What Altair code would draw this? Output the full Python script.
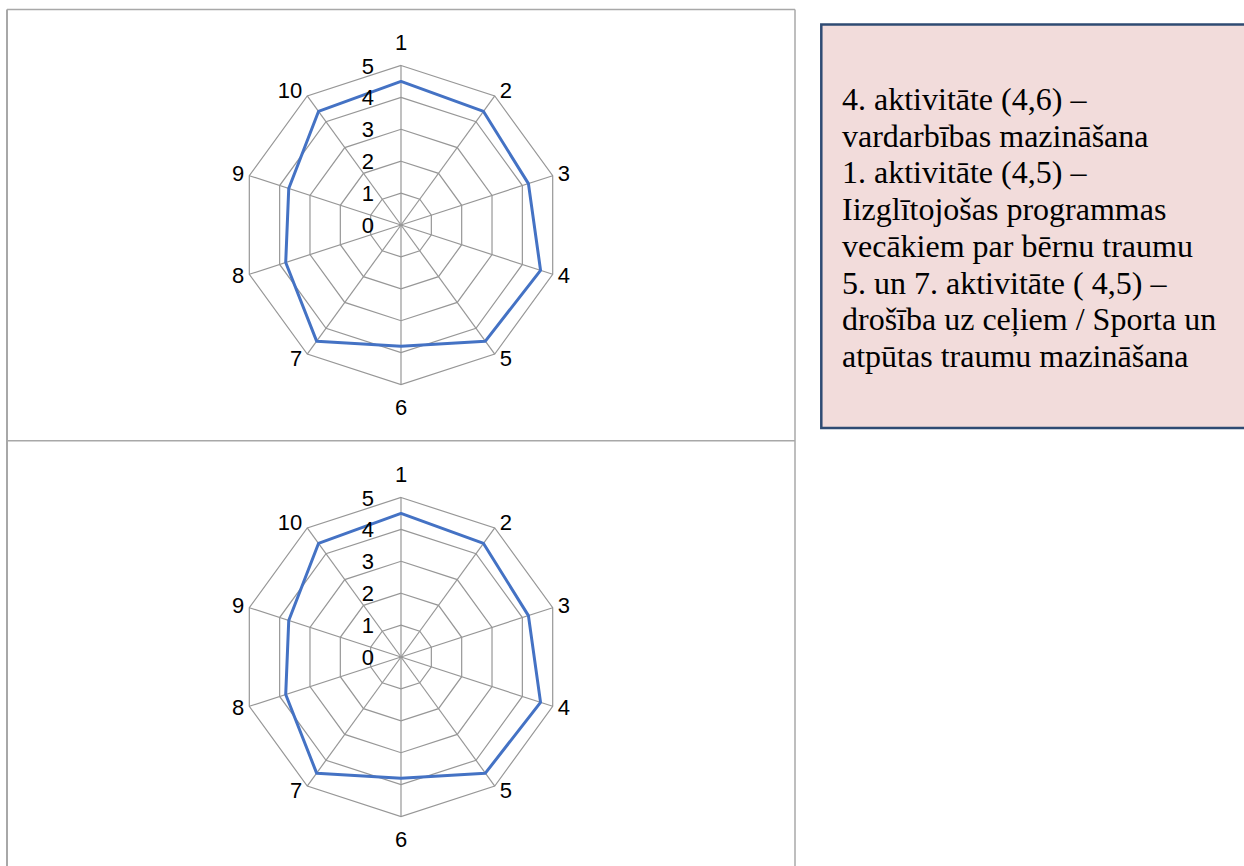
import altair as alt
import pandas as pd

# Radar axes (activities) and the scores shown on each panel
CATEGORIES = ["1", "2", "3", "4", "5", "6", "7", "8", "9", "10"]
TOP_SCORES = [4.5, 4.4, 4.2, 4.6, 4.5, 3.8, 4.5, 3.8, 3.7, 4.4]
BOTTOM_SCORES = [4.5, 4.4, 4.2, 4.6, 4.5, 3.8, 4.5, 3.8, 3.7, 4.4]
RING_TICKS = [0, 1, 2, 3, 4, 5]
INFO_LINES = [
    "4. aktivitāte (4,6) –",
    "vardarbības mazināšana",
    "1. aktivitāte (4,5) –",
    "Iizglītojošas programmas",
    "vecākiem par bērnu traumu",
    "5. un 7. aktivitāte ( 4,5) –",
    "drošība uz ceļiem / Sporta un",
    "atpūtas traumu mazināšana",
]

# Page geometry (pixels)
W, H = 1244, 866
UNIT = 31.9            # pixels per score point
N = len(CATEGORIES)
R_MAX = max(RING_TICKS)
TOP_CENTER = (401, 225)
BOTTOM_CENTER = (401, 657)

GRID = "#979797"
TABLE = "#a8a8a8"
SERIES = "#4472C4"
SANS = "Liberation Sans, Arial, sans-serif"
SERIF = "Liberation Serif, Times New Roman, serif"
LABEL_SIZE = 22

X = alt.X("px:Q", scale=alt.Scale(domain=[0, W], nice=False, zero=False), axis=None)
Y = alt.Y("py:Q", scale=alt.Scale(domain=[0, H], nice=False, zero=False, reverse=True), axis=None)


def place(chart, cx, cy, radius_expr):
    """Convert (idx, radius) rows to page coordinates around (cx, cy)."""
    return chart.transform_calculate(
        theta=f"datum.idx * 2 * PI / {N}"
    ).transform_calculate(
        px=f"{cx} + ({radius_expr}) * {UNIT} * sin(datum.theta)",
        py=f"{cy} - ({radius_expr}) * {UNIT} * cos(datum.theta)",
    )


def radar(scores, center):
    cx, cy = center
    idx = list(range(N))

    rings_df = pd.DataFrame(
        [{"level": lv, "idx": i} for lv in RING_TICKS if lv > 0 for i in idx]
    )
    rings = place(
        alt.Chart(rings_df).mark_line(
            color=GRID, strokeWidth=1.2, interpolate="linear-closed"
        ),
        cx, cy, "datum.level",
    ).encode(x=X, y=Y, detail="level:N", order="idx:Q")

    spokes_df = pd.DataFrame({"idx": idx, "cat": CATEGORIES})
    spokes = (
        alt.Chart(spokes_df)
        .mark_rule(color=GRID, strokeWidth=1.2)
        .transform_calculate(theta=f"datum.idx * 2 * PI / {N}")
        .transform_calculate(
            px=f"{cx}",
            py=f"{cy}",
            px2=f"{cx} + {R_MAX} * {UNIT} * sin(datum.theta)",
            py2=f"{cy} - {R_MAX} * {UNIT} * cos(datum.theta)",
        )
        .encode(x=X, y=Y, x2="px2:Q", y2="py2:Q")
    )

    series_df = pd.DataFrame({"idx": idx, "cat": CATEGORIES, "score": scores})
    series = place(
        alt.Chart(series_df).mark_line(
            color=SERIES, strokeWidth=3, interpolate="linear-closed",
            strokeJoin="round",
        ),
        cx, cy, "datum.score",
    ).encode(x=X, y=Y, order="idx:Q")

    # Category labels just outside the outer ring
    label_base = (
        alt.Chart(spokes_df)
        .transform_calculate(theta=f"datum.idx * 2 * PI / {N}")
        .transform_calculate(s="sin(datum.theta)", c="cos(datum.theta)")
        .transform_calculate(
            vx=f"{cx} + {R_MAX} * {UNIT} * datum.s",
            vy=f"{cy} - {R_MAX} * {UNIT} * datum.c",
        )
        .transform_calculate(
            px="abs(datum.s) < 0.01 ? datum.vx : datum.vx + (datum.s > 0 ? 5 : -5)",
            py="datum.vy - (abs(datum.s) < 0.01 ? 23 : 6) * datum.c",
        )
    )
    text_kw = dict(font=SANS, fontSize=LABEL_SIZE, color="#000000", baseline="middle")
    cat_right = label_base.transform_filter("datum.s > 0.01").mark_text(
        align="left", **text_kw
    ).encode(x=X, y=Y, text="cat:N")
    cat_left = label_base.transform_filter("datum.s < -0.01").mark_text(
        align="right", **text_kw
    ).encode(x=X, y=Y, text="cat:N")
    cat_mid = label_base.transform_filter("abs(datum.s) <= 0.01").mark_text(
        align="center", **text_kw
    ).encode(x=X, y=Y, text="cat:N")

    # Value-axis labels along the vertical spoke
    ticks_df = pd.DataFrame({"level": RING_TICKS, "label": [str(t) for t in RING_TICKS]})
    ticks = (
        alt.Chart(ticks_df)
        .transform_calculate(px=f"{cx - 27}", py=f"{cy} - datum.level * {UNIT} + 1")
        .mark_text(align="right", **text_kw)
        .encode(x=X, y=Y, text="label:N")
    )

    return [rings, spokes, series, cat_right, cat_left, cat_mid, ticks]


one_row = alt.Data(values=[{"k": 1}])


def rule(x, y, x2, y2, width):
    return alt.Chart(one_row).mark_rule(color=TABLE, strokeWidth=width).encode(
        x=alt.value(x), y=alt.value(y), x2=alt.value(x2), y2=alt.value(y2)
    )


# Table frame around the two chart cells
table = [
    rule(7, 9.5, 795, 9.5, 1.5),
    rule(7, 9.5, 7, H + 2, 2),
    rule(795, 9.5, 795, H + 2, 1.5),
    rule(7, 440.7, 795, 440.7, 1.5),
]

# Commentary box
box = alt.Chart(one_row).mark_rect(
    fill="#F2DCDB", stroke="#2F4B73", strokeWidth=2.5
).encode(
    x=alt.value(821.3), x2=alt.value(W + 20), y=alt.value(24.5), y2=alt.value(428)
)
box_text = alt.Chart(one_row).mark_text(
    align="left", baseline="alphabetic", font=SERIF, fontSize=32,
    lineHeight=36.7, color="#000000",
).encode(x=alt.value(842), y=alt.value(110), text=alt.value(INFO_LINES))

chart = alt.layer(
    *table,
    *radar(TOP_SCORES, TOP_CENTER),
    *radar(BOTTOM_SCORES, BOTTOM_CENTER),
    box,
    box_text,
).properties(
    width=W, height=H, padding=0, autosize=alt.AutoSizeParams(type="none"),
    background="#ffffff",
).configure_view(stroke=None)

chart.save("out.html", embed_options={"renderer": "svg", "actions": False})
